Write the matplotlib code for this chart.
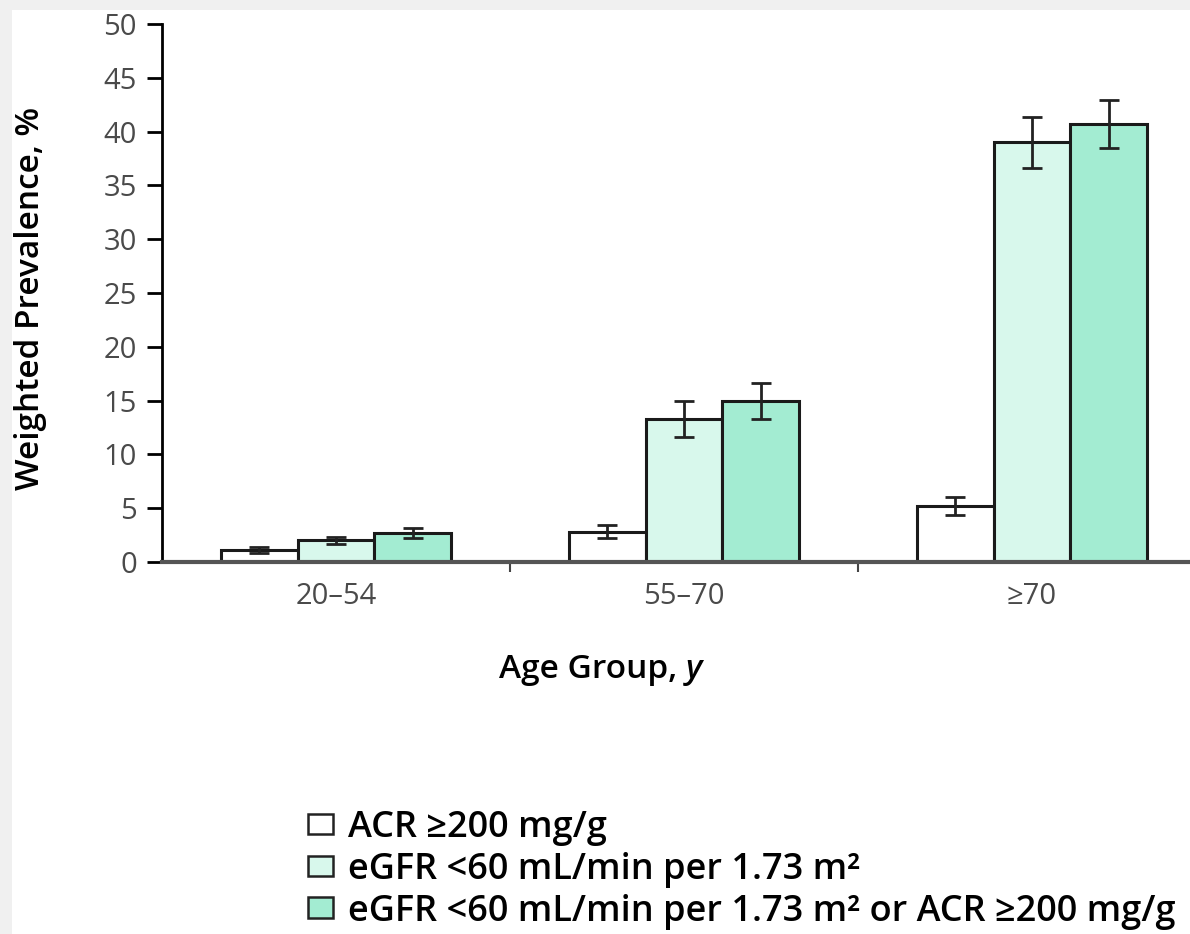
import numpy as np
import matplotlib
matplotlib.use("Agg")
from matplotlib import pyplot as plt
from matplotlib.patches import Rectangle, Patch

plt.rcParams['font.family'] = ['Open Sans', 'DejaVu Sans']

# Weighted prevalence by age group (%), with error bar half-widths
groups = ["20\u201354", "55\u201370", "\u226570"]
acr = [1.1, 2.8, 5.2]
acr_err = [0.25, 0.6, 0.85]
egfr = [2.0, 13.3, 39.0]
egfr_err = [0.3, 1.7, 2.4]
either = [2.7, 14.95, 40.7]
either_err = [0.5, 1.65, 2.2]

series_labels = ["ACR \u2265200 mg/g",
                 "eGFR <60 mL/min per 1.73 m\u00b2",
                 "eGFR <60 mL/min per 1.73 m\u00b2 or ACR \u2265200 mg/g"]
colors = ["white", "#d8f8ec", "#a3ecd2"]

fig = plt.figure(figsize=(11.9, 9.34), dpi=100, facecolor="#f0f0f0")
# white page sitting on a light grey margin
fig.patches.append(Rectangle((12/1190, 0), 1, 1 - 10/934, transform=fig.transFigure,
                             facecolor="white", edgecolor="none", zorder=-1))

ax = fig.add_axes([162/1190, 1 - 562/934, 1 - 162/1190, (562 - 24)/934])
ax.set_facecolor("none")

x = np.arange(len(groups))
w = 0.22
for off, vals, errs, c in [(-w, acr, acr_err, colors[0]),
                           (0, egfr, egfr_err, colors[1]),
                           (w, either, either_err, colors[2])]:
    ax.bar(x + off, vals, width=w, color=c, edgecolor="#1a1a1a", linewidth=2.2, zorder=2)
    ax.errorbar(x + off, vals, yerr=errs, fmt="none", ecolor="#222222",
                elinewidth=2, capsize=7, capthick=2, zorder=3)

ax.set_xlim(-0.5, 2.454)
ax.set_ylim(0, 50)
ax.set_yticks(np.arange(0, 51, 5))
ax.tick_params(axis="y", direction="out", length=11, width=2, labelsize=21,
               labelcolor="#4a4a4a", pad=7)

# group labels sit under the bars, ticks mark the gaps between groups
ax.set_xticks([0.5, 1.5])
ax.set_xticklabels([])
ax.tick_params(axis="x", direction="out", length=7, width=1.5, color="#444444")
for xi, g in zip(x, groups):
    ax.text(xi, -1.9, g, ha="center", va="top", fontsize=21, color="#4a4a4a")

for s in ["top", "right"]:
    ax.spines[s].set_visible(False)
ax.spines["left"].set_linewidth(2)
ax.spines["bottom"].set_linewidth(3)
ax.spines["bottom"].set_color("#555555")

fig.text(31/1190, 1 - 298/934, "Weighted Prevalence, %", rotation=90,
         ha="center", va="center", fontsize=24, fontweight="semibold")
fig.text(686/1190, 1 - 670/934, "Age Group, ", ha="right", va="center",
         fontsize=24, fontweight="semibold")
fig.text(686/1190, 1 - 670/934, "y", ha="left", va="center",
         fontsize=24, fontweight="semibold", style="italic")

handles = [Patch(facecolor=c, edgecolor="#222222", linewidth=1.8) for c in colors]
leg = fig.legend(handles, series_labels, loc="upper left",
                 bbox_to_anchor=(308/1190, 1 - 810/934), frameon=False,
                 prop={"size": 26, "weight": "semibold"},
                 handlelength=0.7, handleheight=0.5, handletextpad=0.42,
                 labelspacing=0.16, borderpad=0, borderaxespad=0)

fig.savefig("out.png", dpi=100, facecolor=fig.get_facecolor())
